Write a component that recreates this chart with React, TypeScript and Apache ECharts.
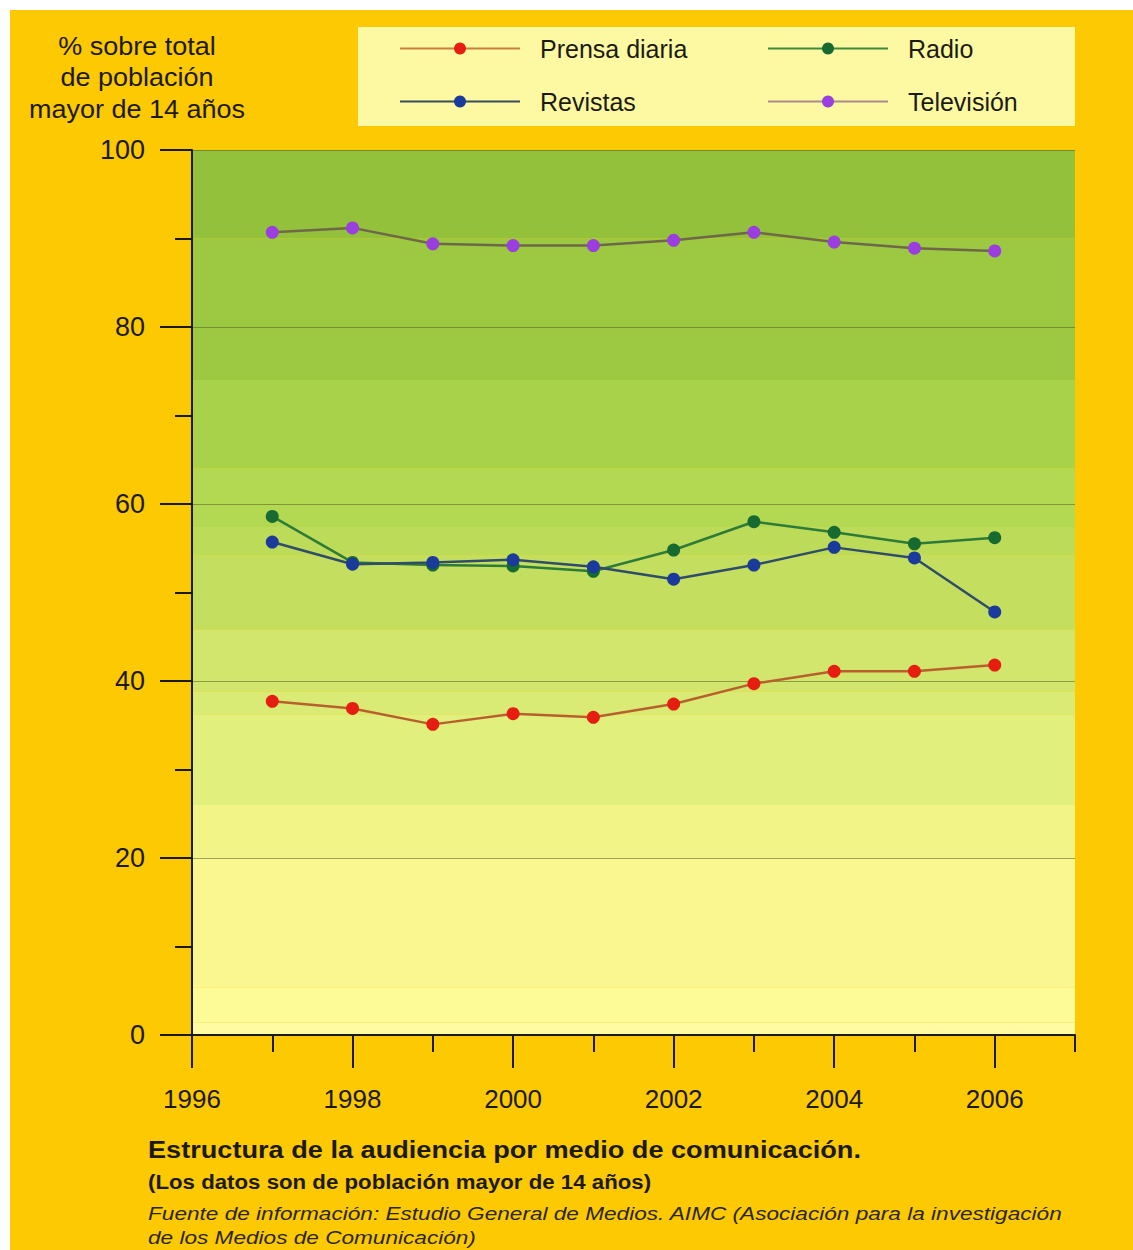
import React, { useEffect, useRef } from "react";
import * as echarts from "echarts";

// ---- data ----
const YEARS = [1997, 1998, 1999, 2000, 2001, 2002, 2003, 2004, 2005, 2006];
const PRENSA = [37.7, 36.9, 35.1, 36.3, 35.9, 37.4, 39.7, 41.1, 41.1, 41.8];
const RADIO = [58.6, 53.4, 53.1, 53.0, 52.4, 54.8, 58.0, 56.8, 55.5, 56.2];
const REVISTAS = [55.7, 53.2, 53.4, 53.7, 52.9, 51.5, 53.1, 55.1, 53.9, 47.8];
const TELEVISION = [90.7, 91.2, 89.4, 89.2, 89.2, 89.8, 90.7, 89.6, 88.9, 88.6];
const SERIES_NAMES = ["Prensa diaria", "Radio", "Revistas", "Televisión"];

const X_MIN = 1996;
const X_MAX = 2007;
const X_LABELS = [1996, 1998, 2000, 2002, 2004, 2006];
const Y_MIN = 0;
const Y_MAX = 100;
const Y_STEP = 20;

const Y_TITLE = ["% sobre total", "de población", "mayor de 14 años"];
const FOOTER_TITLE = "Estructura de la audiencia por medio de comunicación.";
const FOOTER_SUB = "(Los datos son de población mayor de 14 años)";
const FOOTER_SRC1 =
  "Fuente de información: Estudio General de Medios. AIMC (Asociación para la investigación";
const FOOTER_SRC2 = "de los Medios de Comunicación)";

// ---- styles ----
const BANDS: [number, number, string][] = [
  [90, 100, "#93c13b"],
  [74, 90, "#9cc842"],
  [64, 74, "#a9d24b"],
  [57.4, 64, "#b3d952"],
  [54.2, 57.4, "#bcdb58"],
  [45.8, 54.2, "#c4df5f"],
  [38.8, 45.8, "#d2e66d"],
  [36.2, 38.8, "#d9eb74"],
  [26, 36.2, "#e1f07d"],
  [20, 26, "#f2f487"],
  [5.4, 20, "#fbf790"],
  [1.4, 5.4, "#fdfa98"],
  [0, 1.4, "#fefba2"],
];
const LINE_COLORS = ["#b8602c", "#2e7a38", "#2f4c6a", "#6e6848"];
const DOT_COLORS = ["#e61e12", "#176a30", "#1a3a9c", "#9a3ee0"];
const LEGEND_LINE_COLORS = ["#c8803c", "#3f8a3a", "#3a4a60", "#a88a90"];
const FONT = "Liberation Sans, Arial, sans-serif";
const INK = "#1c1a10";

export default function App() {
  const ref = useRef<HTMLDivElement>(null);

  useEffect(() => {
    const chart = echarts.init(ref.current!, null, { renderer: "svg" });
    const values = [PRENSA, RADIO, REVISTAS, TELEVISION];

    const legendCommon = {
      itemWidth: 120,
      itemHeight: 15,
      selectedMode: false,
      textStyle: {
        fontFamily: FONT,
        fontSize: 25,
        color: INK,
        padding: [0, 0, 0, 15],
      },
    };
    const legendPos = [
      { left: 384, top: 21 },
      { left: 752, top: 21 },
      { left: 384, top: 74 },
      { left: 752, top: 74 },
    ];

    const series: any[] = values.map((vals, i) => ({
      name: SERIES_NAMES[i],
      type: "line",
      z: 3,
      xAxisIndex: 0,
      data: YEARS.map((y, j) => [y, vals[j]]),
      symbol: "circle",
      symbolSize: 13,
      lineStyle: { color: LINE_COLORS[i], width: 2.5 },
      itemStyle: { color: DOT_COLORS[i] },
      ...(i === 0
        ? {
            markArea: {
              silent: true,
              z: 1,
              data: BANDS.map((b) => [
                { yAxis: b[0], itemStyle: { color: b[2], opacity: 1 } },
                { yAxis: b[1] },
              ]),
            },
          }
        : {}),
    }));

    const tickStyle = { color: "#1a1a1a", width: 2 };

    chart.setOption({
      animation: false,
      backgroundColor: "#fdc903",
      grid: { left: 182, top: 140, right: 58, bottom: 215 },
      legend: SERIES_NAMES.map((n, i) => ({
        ...legendCommon,
        ...legendPos[i],
        data: [{ name: n, lineStyle: { color: LEGEND_LINE_COLORS[i] } }],
      })),
      xAxis: [
        {
          type: "value",
          position: "bottom",
          min: X_MIN,
          max: X_MAX,
          interval: 1,
          z: 2,
          axisLine: { show: true, lineStyle: tickStyle },
          axisTick: { show: true, length: 17, lineStyle: tickStyle },
          splitLine: { show: false },
          axisLabel: { show: false },
        },
        {
          type: "value",
          position: "bottom",
          offset: 0,
          min: X_MIN,
          max: X_MAX,
          interval: 1,
          z: 2,
          axisLine: { show: false },
          axisTick: {
            show: true,
            length: 33,
            lineStyle: tickStyle,
            customValues: X_LABELS,
          },
          splitLine: { show: false },
          axisLabel: {
            margin: 51,
            fontFamily: FONT,
            fontSize: 26,
            color: INK,
            customValues: X_LABELS,
            formatter: (v: number) => String(v),
          },
        },
      ],
      yAxis: {
        type: "value",
        min: Y_MIN,
        max: Y_MAX,
        interval: Y_STEP,
        z: 2,
        axisLine: { show: true, lineStyle: tickStyle },
        axisTick: { show: true, length: 32, lineStyle: tickStyle },
        minorTick: { show: true, splitNumber: 2, length: 17, lineStyle: tickStyle },
        splitLine: { show: true, lineStyle: { color: "rgba(85,95,35,0.55)", width: 1 } },
        axisLabel: { margin: 47, fontFamily: FONT, fontSize: 27, color: INK },
      },
      graphic: [
        {
          type: "rect",
          z: -1,
          shape: { x: 348, y: 17, width: 717, height: 99 },
          style: { fill: "#fcf9a2" },
        },
        ...Y_TITLE.map((t, i) => ({
          type: "text",
          x: 127,
          y: 36 + i * 31.5,
          scaleX: 1.08,
          style: {
            text: t,
            fontFamily: FONT,
            fontSize: 25,
            fill: INK,
            textAlign: "center",
            textVerticalAlign: "middle",
          },
        })),
        {
          type: "text",
          x: 138,
          y: 1140,
          scaleX: 1.18,
          style: {
            text: FOOTER_TITLE,
            fontFamily: FONT,
            fontWeight: "bold",
            fontSize: 23,
            fill: INK,
            textVerticalAlign: "middle",
          },
        },
        {
          type: "text",
          x: 138,
          y: 1172,
          scaleX: 1.06,
          style: {
            text: FOOTER_SUB,
            fontFamily: FONT,
            fontWeight: "bold",
            fontSize: 21,
            fill: INK,
            textVerticalAlign: "middle",
          },
        },
        ...[FOOTER_SRC1, FOOTER_SRC2].map((t, i) => ({
          type: "text",
          x: 138,
          y: 1203 + i * 24,
          scaleX: 1.19,
          style: {
            text: t,
            fontFamily: FONT,
            fontStyle: "italic",
            fontSize: 19,
            fill: "#2a2610",
            textVerticalAlign: "middle",
          },
        })),
      ],
      series,
    });
    return () => chart.dispose();
  }, []);

  return (
    <div
      style={{
        position: "absolute",
        left: 0,
        top: 0,
        width: 1133,
        height: 1250,
        background: "#ffffff",
      }}
    >
      <div
        ref={ref}
        style={{ position: "absolute", left: 10, top: 10, width: 1123, height: 1240 }}
      />
    </div>
  );
}
